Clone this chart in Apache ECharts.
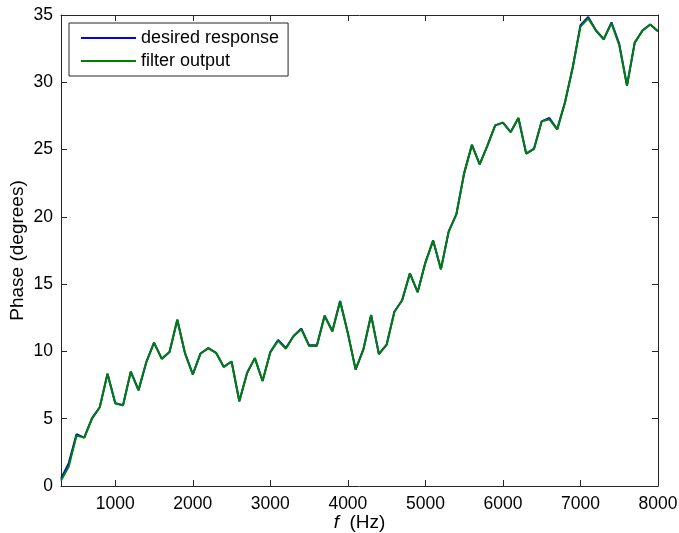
<!DOCTYPE html>
<html>
<head>
<meta charset="utf-8">
<script src="https://cdn.jsdelivr.net/npm/echarts@6/dist/echarts.min.js"></script>
<style>
html,body{margin:0;padding:0;background:#fff;}
#chart{width:679px;height:533px;}
</style>
</head>
<body>
<div id="chart"></div>
<script>
var freqHz = [300,400,500,600,700,800,900,1000,1100,1200,1300,1400,1500,1600,1700,1800,1900,2000,
  2100,2200,2300,2400,2500,2600,2700,2800,2900,3000,3100,3200,3300,3400,3500,3600,3700,3800,3900,4000,
  4100,4200,4300,4400,4500,4600,4700,4800,4900,5000,5100,5200,5300,5400,5500,5600,5700,5800,5900,6000,
  6100,6200,6300,6400,6500,6600,6700,6800,6900,7000,7100,7200,7300,7400,7500,7600,7700,7800,7900,8000];

var filterOutput = [0.4,1.45,3.75,3.6,5.0,5.85,8.35,6.15,6.0,8.5,7.15,9.2,10.65,9.45,9.95,12.35,9.85,8.3,
  9.85,10.25,9.9,8.85,9.25,6.3,8.4,9.5,7.8,9.95,10.8,10.2,11.15,11.65,10.4,10.4,12.65,11.5,13.75,11.35,
  8.65,10.15,12.7,9.8,10.5,12.95,13.8,15.8,14.4,16.6,18.25,16.1,18.9,20.2,23.25,25.35,23.9,25.3,26.8,27.0,
  26.3,27.35,24.7,25.05,27.1,27.25,26.5,28.5,31.1,34.15,34.75,33.85,33.2,34.4,32.75,29.75,32.95,33.85,34.3,33.8];

var desiredResponse = [0.55,1.7,3.85,3.6,5.05,5.85,8.35,6.15,6.0,8.5,7.1,9.2,10.65,9.45,9.95,12.35,9.85,8.3,
  9.85,10.25,9.9,8.85,9.25,6.3,8.4,9.5,7.8,9.95,10.85,10.25,11.15,11.7,10.45,10.45,12.65,11.5,13.75,11.35,
  8.65,10.15,12.7,9.8,10.5,12.95,13.8,15.8,14.4,16.6,18.25,16.1,18.9,20.2,23.25,25.35,23.9,25.3,26.8,27.0,
  26.3,27.35,24.7,25.05,27.1,27.35,26.5,28.5,31.1,34.25,34.85,33.85,33.2,34.45,32.85,29.75,32.95,33.85,34.3,33.8];

var xTickValues = [1000,2000,3000,4000,5000,6000,7000,8000];
var seriesNames = ['desired response','filter output'];

function pairs(xs, ys){ return xs.map(function(x,i){ return [x, ys[i]]; }); }
function plain(v){ return String(v); }

var FONT = '"Liberation Sans", Arial, Helvetica, sans-serif';
var AX = '#262626';

var chart = echarts.init(document.getElementById('chart'));
chart.setOption({
  animation: false,
  backgroundColor: '#fff',
  textStyle: {fontFamily: FONT},
  grid: {left: 61, right: 21, top: 15, bottom: 47, containLabel: false, outerBoundsMode: 'none'},
  legend: {
    orient: 'vertical',
    left: 69, top: 23,
    data: seriesNames,
    icon: 'rect',
    itemWidth: 55, itemHeight: 2,
    itemGap: 3,
    padding: [5, 9, 5, 12],
    borderColor: AX, borderWidth: 1,
    backgroundColor: '#fff',
    textStyle: {fontSize: 18, color: '#000', fontFamily: FONT, lineHeight: 20}
  },
  xAxis: [{
    type: 'value', min: 300, max: 8000, position: 'bottom',
    name: '{i|f}  (Hz)', nameLocation: 'middle', nameGap: 27, nameMoveOverlap: false,
    nameTextStyle: {fontSize: 19, color: '#000', fontFamily: FONT,
      rich: {i: {fontStyle: 'italic', fontSize: 19, color: '#000', fontFamily: FONT}}},
    axisLine: {show: true, onZero: false, lineStyle: {color: AX, width: 1}},
    axisTick: {show: true, inside: true, length: 6, customValues: xTickValues, lineStyle: {color: AX}},
    axisLabel: {show: true, customValues: xTickValues, formatter: plain, fontSize: 17.5, color: '#000', margin: 9, fontFamily: FONT},
    splitLine: {show: false}
  }, {
    type: 'value', min: 300, max: 8000, position: 'top',
    axisLine: {show: true, onZero: false, lineStyle: {color: AX, width: 1}},
    axisTick: {show: true, inside: true, length: 6, customValues: xTickValues, lineStyle: {color: AX}},
    axisLabel: {show: false},
    splitLine: {show: false}
  }],
  yAxis: [{
    type: 'value', min: 0, max: 35, interval: 5, position: 'left',
    name: 'Phase (degrees)', nameLocation: 'middle', nameGap: 34, nameRotate: 90, nameMoveOverlap: false,
    nameTextStyle: {fontSize: 19, color: '#000', fontFamily: FONT},
    axisLine: {show: true, onZero: false, lineStyle: {color: AX, width: 1}},
    axisTick: {show: true, inside: true, length: 6, lineStyle: {color: AX}},
    axisLabel: {show: true, formatter: plain, fontSize: 17.5, color: '#000', margin: 8, fontFamily: FONT},
    splitLine: {show: false}
  }, {
    type: 'value', min: 0, max: 35, interval: 5, position: 'right',
    axisLine: {show: true, onZero: false, lineStyle: {color: AX, width: 1}},
    axisTick: {show: true, inside: true, length: 6, lineStyle: {color: AX}},
    axisLabel: {show: false},
    splitLine: {show: false}
  }],
  series: [{
    name: seriesNames[0], type: 'line', xAxisIndex: 0, yAxisIndex: 0,
    data: pairs(freqHz, desiredResponse),
    showSymbol: false, symbol: 'none',
    lineStyle: {color: '#0000ff', width: 2},
    itemStyle: {color: '#0000ff'}
  }, {
    name: seriesNames[1], type: 'line', xAxisIndex: 0, yAxisIndex: 0,
    data: pairs(freqHz, filterOutput),
    showSymbol: false, symbol: 'none',
    lineStyle: {color: '#008000', width: 2},
    itemStyle: {color: '#008000'}
  }]
});
</script>
</body>
</html>
